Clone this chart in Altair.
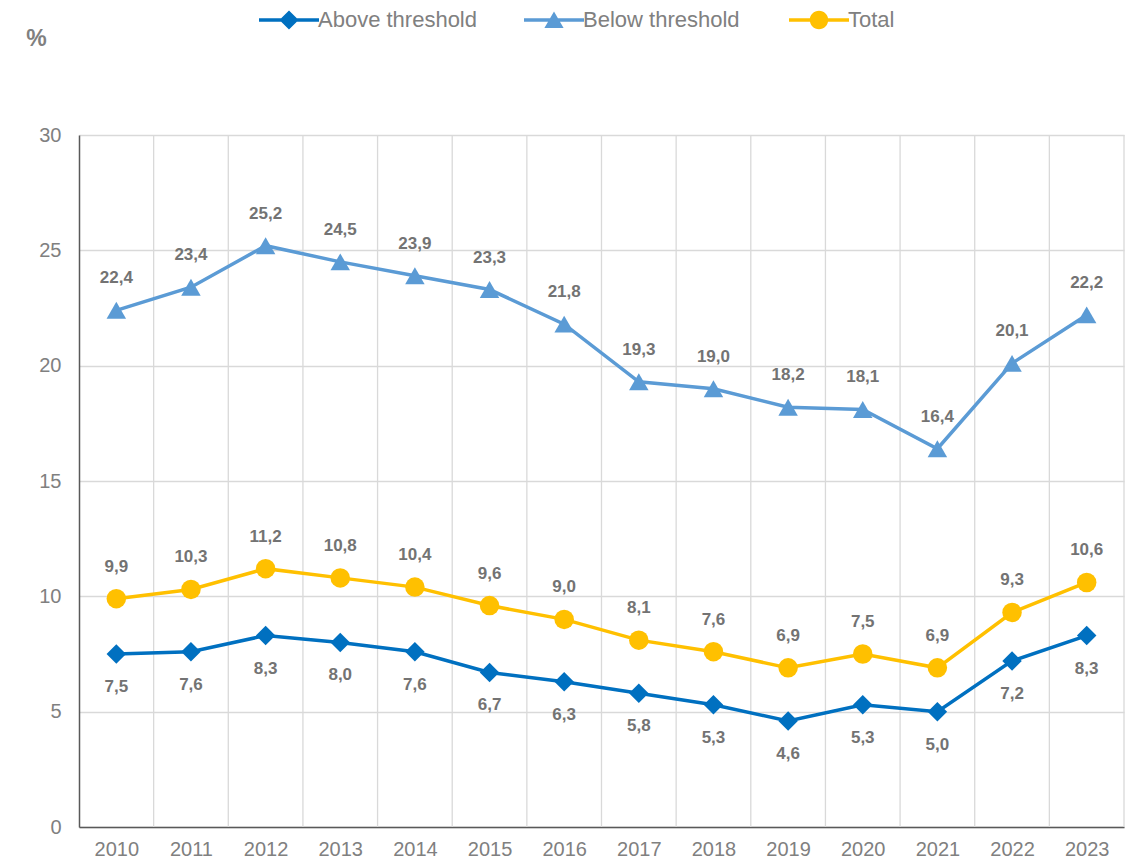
import altair as alt
import pandas as pd

years = list(range(2010, 2024))
above = [7.5, 7.6, 8.3, 8.0, 7.6, 6.7, 6.3, 5.8, 5.3, 4.6, 5.3, 5.0, 7.2, 8.3]
below = [22.4, 23.4, 25.2, 24.5, 23.9, 23.3, 21.8, 19.3, 19.0, 18.2, 18.1, 16.4, 20.1, 22.2]
total = [9.9, 10.3, 11.2, 10.8, 10.4, 9.6, 9.0, 8.1, 7.6, 6.9, 7.5, 6.9, 9.3, 10.6]
series = ["Above threshold", "Below threshold", "Total"]
colors = ["#0070C0", "#5B9BD5", "#FFC000"]
y_ticks = [0, 5, 10, 15, 20, 25, 30]

rows = []
for name, vals in zip(series, [above, below, total]):
    for yr, v in zip(years, vals):
        rows.append({"year": yr, "value": v, "series": name})
df = pd.DataFrame(rows)
grid_df = pd.DataFrame({"year": [y + 0.5 for y in years]})

GRAY = "#808080"
LAB = "#737373"

x_scale = alt.Scale(domain=[2009.5, 2023.5], nice=False, zero=False)
x_axis = alt.Axis(values=years, format="d", grid=False, ticks=False, tickSize=0,
                  labelFontSize=20, labelColor=GRAY, labelPadding=12,
                  labelFlush=False, labelOverlap=False,
                  domainColor="#595959", domainWidth=1.5)
y_scale = alt.Scale(domain=[0, 30], nice=False)
y_axis = alt.Axis(values=y_ticks, grid=True, gridColor="#d9d9d9", gridWidth=1.3,
                  ticks=False, tickSize=0, labelFontSize=20, labelColor=GRAY,
                  labelPadding=18, domainColor="#595959", domainWidth=1.5,
                  titleAngle=0, titleX=-43, titleY=-97, titleAlign="center",
                  titleBaseline="middle", titleFontSize=23, titleFontWeight="bold",
                  titleColor=GRAY)

X = alt.X("year:Q", scale=x_scale, axis=x_axis, title=None)
Y = alt.Y("value:Q", scale=y_scale, axis=y_axis, title="%")

shape_std = ["diamond", "triangle-up", "circle"]
bar = "M-3.75,-0.22H3.75V0.22H-3.75Z "
legend_paths = [
    bar + "M0,-1.2L1.2,0L0,1.2L-1.2,0Z",
    bar + "M0,-1.05L1.2,1.0L-1.2,1.0Z",
    bar + "M1.15,0A1.15,1.15,0,1,1,-1.15,0A1.15,1.15,0,1,1,1.15,0Z",
]

vgrid = alt.Chart(grid_df).mark_rule(color="#d9d9d9", strokeWidth=1.3).encode(x=X)

base = alt.Chart(df)

lines = base.mark_line(strokeWidth=3.5).encode(
    x=X, y=Y,
    color=alt.Color("series:N", scale=alt.Scale(domain=series, range=colors), legend=None),
)

points = base.mark_point(filled=True, opacity=1, size=380, strokeWidth=0).encode(
    x=X, y=Y,
    color=alt.Color("series:N", scale=alt.Scale(domain=series, range=colors), legend=None),
    shape=alt.Shape("series:N", scale=alt.Scale(domain=series, range=shape_std), legend=None),
)

leg = alt.Legend(title=None, orient="none", legendX=199, legendY=-126,
                 direction="horizontal", columns=3, gridAlign="all",
                 columnPadding=47, labelFontSize=22, labelColor=GRAY,
                 labelOffset=18, labelLimit=400, symbolSize=256, symbolStrokeWidth=0,
                 padding=0, labelFont="Liberation Sans")

legend_layer = base.transform_filter("false").mark_point(
    filled=True, opacity=1, size=256, strokeWidth=0).encode(
    x=X, y=Y,
    color=alt.Color("series:N", scale=alt.Scale(domain=series, range=colors), legend=leg),
    shape=alt.Shape("series:N", scale=alt.Scale(domain=series, range=legend_paths), legend=leg),
)

label_expr = "replace(format(datum.value, '.1f'), '.', ',')"

lab_below = base.transform_filter(alt.datum.series == "Above threshold").transform_calculate(
    lab=label_expr).mark_text(dy=33, fontSize=17, fontWeight="bold", color=LAB).encode(
    x=X, y=Y, text="lab:N")

lab_above = base.transform_filter(alt.datum.series != "Above threshold").transform_calculate(
    lab=label_expr).mark_text(dy=-32, fontSize=17, fontWeight="bold", color=LAB).encode(
    x=X, y=Y, text="lab:N")

chart = alt.layer(vgrid, lines, points, lab_below, lab_above, legend_layer).resolve_scale(
    color="independent", shape="independent"
).properties(
    width=1045, height=692,
    autosize=alt.AutoSizeParams(type="none"),
    padding={"left": 71, "top": 127, "right": 11, "bottom": 33},
).configure(font="Liberation Sans").configure_view(stroke=None)

chart.save("out.html", embed_options={"renderer": "svg", "actions": False})
